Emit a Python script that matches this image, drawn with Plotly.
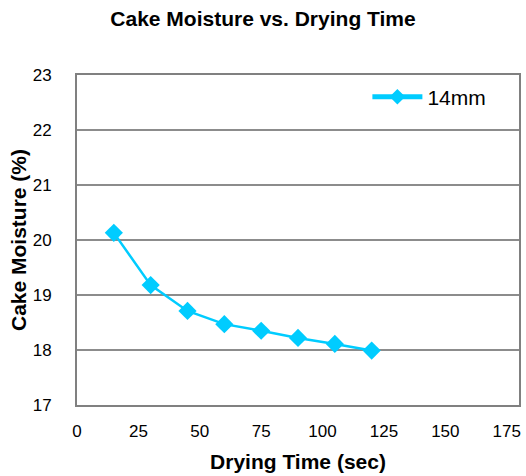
import plotly.graph_objects as go

drying_time = [15, 30, 45, 60, 75, 90, 105, 120]
moisture_14mm = [20.13, 19.18, 18.71, 18.47, 18.35, 18.22, 18.11, 17.99]
series_name = "14mm"

x_ticks = [0, 25, 50, 75, 100, 125, 150, 175]
y_ticks = [17, 18, 19, 20, 21, 22, 23]

color = "#00CCFF"
font = "Liberation Sans, Arial, sans-serif"

fig = go.Figure()
fig.add_trace(go.Scatter(
    x=drying_time, y=moisture_14mm, name=series_name,
    mode="lines+markers",
    line=dict(color=color, width=2.5),
    marker=dict(symbol="diamond", size=14, color=color),
))

fig.update_layout(
    width=526, height=476,
    margin=dict(l=77, r=7, t=75, b=71, autoexpand=False),
    paper_bgcolor="white", plot_bgcolor="white",
    font=dict(family=font, size=17, color="black"),
    title=dict(text="<b>Cake Moisture vs. Drying Time</b>", x=0.5, xanchor="center",
               y=1 - 19/476, yanchor="middle", font=dict(size=21)),
    showlegend=True,
    legend=dict(x=0.657, y=0.995, xanchor="left", yanchor="top",
                bgcolor="rgba(0,0,0,0)", font=dict(size=21), itemwidth=50,
                itemsizing="constant"),
    xaxis=dict(range=[0, 180], tickvals=x_ticks, showgrid=False, automargin=False,
               showline=True, linecolor="#808080", linewidth=2, mirror=True,
               ticks="", zeroline=False, ticklabeloverflow="allow", ticklabelstandoff=10,
               title=dict(text="<b>Drying Time (sec)</b>", font=dict(size=21), standoff=14)),
    yaxis=dict(range=[17, 23], tickvals=y_ticks, showgrid=True, gridcolor="#8c8c8c", gridwidth=1.5,
               showline=True, linecolor="#808080", linewidth=2, mirror=True, automargin=False,
               ticks="", zeroline=False, ticklabelstandoff=20,
               title=dict(text="<b>Cake Moisture (%)</b>", font=dict(size=21), standoff=0)),
)

fig.write_html("out.html")
